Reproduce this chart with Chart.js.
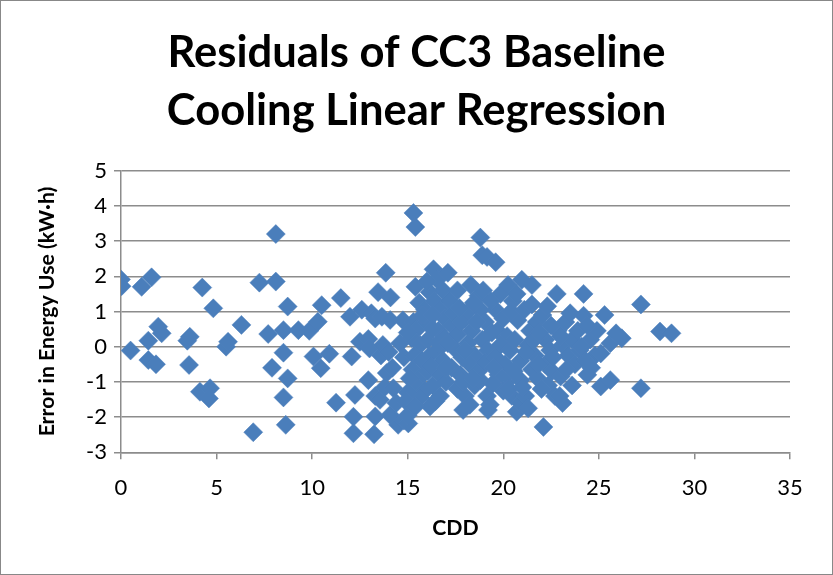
<!DOCTYPE html>
<html>
<head>
<meta charset="utf-8">
<script src="https://cdn.jsdelivr.net/npm/chart.js@4.4.1/dist/chart.umd.min.js"></script>
<style>
  html, body { margin: 0; padding: 0; background: #ffffff; }
  #wrap { width: 833px; height: 575px; position: relative; }
</style>
</head>
<body>
<div id="wrap"><canvas id="c" width="833" height="575"></canvas></div>
<script>
// ---- Data ----
const titleLines = ['Residuals of CC3 Baseline', 'Cooling Linear Regression'];
const xAxisTitle = 'CDD';
const yAxisTitle = 'Error in Energy Use (kW\u00B7h)';
const xTickValues = [0, 5, 10, 15, 20, 25, 30, 35];
const yTickValues = [-3, -2, -1, 0, 1, 2, 3, 4, 5];

// CDD (x) and residual (y) of each observation, paired by index
const cddValues = [
  0.0, 0.03, 0.5, 1.08, 1.6, 1.43, 1.43, 1.83, 1.95, 2.13,
  3.47, 3.6, 3.56, 4.13, 4.66, 4.6, 4.25, 4.83, 5.5, 5.6,
  6.3, 6.92, 7.24, 7.7, 7.9, 8.1, 8.1, 8.5, 8.5, 8.5,
  8.62, 8.72, 8.72, 9.28, 9.85, 10.07, 10.3, 10.45, 10.5, 10.9,
  11.25, 11.5, 11.98, 12.07, 12.16, 12.16, 12.24, 12.5, 12.6, 12.94,
  13.0, 12.94, 13.1, 13.24, 13.3, 13.3, 13.55, 13.45, 13.3, 13.6,
  13.85, 13.65, 13.7, 13.9, 13.8, 14.08, 14.1, 14.0, 14.2, 14.25,
  14.08, 14.5, 14.8, 15.03, 14.6, 14.8, 14.75, 15.0,
  15.3, 15.4, 15.4, 15.6, 15.9, 15.3, 15.5, 16.0, 15.2, 15.65,
  16.05, 15.35, 15.75, 16.15, 15.25, 15.6, 16.05, 15.45, 15.9, 16.3,
  15.65, 16.17, 16.35, 16.55, 17.1, 16.85, 16.15, 16.4, 16.7, 16.95,
  16.6, 16.95, 16.55, 16.85, 16.7, 17.0, 16.7, 16.45,
  17.2, 17.3, 17.6, 17.45, 17.85, 17.3, 17.75, 17.6, 18.0, 17.9,
  18.25, 18.0, 18.25, 18.35, 18.15, 18.5, 18.25, 18.7, 18.5, 18.8,
  18.9, 19.15, 19.6, 18.7, 18.95, 18.8, 19.05, 18.9, 19.2, 19.05,
  18.8, 19.15, 19.3, 19.2,
  19.85, 20.25, 20.5, 19.6, 20.0, 19.7, 20.2, 19.85, 20.35, 19.6,
  20.1, 19.75, 20.25, 20.0, 20.45, 20.7, 20.9, 20.75, 20.6, 20.9,
  20.9, 20.97, 21.5,
  21.15, 21.3, 21.4, 21.3, 21.65, 21.5, 21.8, 21.75, 22.05, 22.2,
  22.45, 22.2, 22.55, 22.35, 22.7, 22.1, 22.8, 22.85, 23.25, 23.1,
  23.4, 23.1, 22.95, 23.6, 23.75, 23.6, 23.9, 24.0,
  24.2, 24.2, 24.4, 24.55, 24.8, 24.9, 25.1, 25.1, 25.3, 25.6,
  25.6, 25.9, 26.2, 27.2, 28.2, 28.8, 27.2,
  15.0, 15.1, 15.0, 15.8, 16.3, 16.2, 16.6, 16.3, 17.1, 17.0,
  17.4, 17.8, 17.9, 18.4, 18.6, 18.45, 17.7, 18.0, 19.4, 19.5,
  19.45, 19.35, 20.4, 20.55, 20.3, 21.1, 21.2, 21.0, 21.6, 21.9,
  21.85, 22.0, 22.5, 22.6, 23.0, 23.3, 23.0, 23.5, 24.3, 24.1,
  24.6, 24.4, 22.3, 21.5, 20.7, 18.3, 17.6, 16.0,
  14.4, 14.9, 15.4
];
const residualValues = [
  1.91, 1.72, -0.11, 1.7, 1.97, 0.17, -0.38, -0.5, 0.57, 0.38,
  0.17, 0.28, -0.52, -1.28, -1.18, -1.47, 1.68, 1.09, 0.0, 0.14,
  0.62, -2.43, 1.82, 0.36, -0.6, 3.2, 1.85, -1.44, -0.17, 0.47,
  -2.22, 1.14, -0.9, 0.47, 0.45, -0.28, 0.71, -0.61, 1.18, -0.2,
  -1.59, 1.38, 0.85, -0.28, -2.46, -1.99, -1.37, 0.14, 1.05, 0.22,
  -0.05, -0.95, 0.95, -2.49, -1.98, -1.4, -1.51, 1.55, 0.8, -0.25,
  2.1, 0.85, 0.05, -0.75, -1.15, 0.76, 1.4, -0.15, -0.6, -1.18,
  -1.94, -2.22, -2.1, -2.18, 0.1, -0.3, 0.75, -1.95,
  3.8, 3.4, 1.7, 1.25, 1.05, 0.7, 0.5, 0.7, 0.25, 0.05,
  0.2, -0.25, -0.4, -0.25, -0.65, -0.9, -0.7, -1.1, -1.25, -1.1,
  -1.45, -1.7, 2.2, 1.9, 2.1, 1.6, 1.55, 1.3, 1.05, 0.8,
  0.45, 0.25, -0.1, -0.4, -0.8, -1.0, -1.4, -1.55,
  1.3, 0.6, 0.35, -0.05, -0.3, -0.6, -0.8, -1.2, -1.4, -1.8,
  -1.65, 0.8, 1.05, 0.45, 0.1, -0.25, -0.5, -0.7, -1.1, 3.1,
  2.6, 2.55, 2.4, 1.45, 1.6, 1.05, 0.7, 0.2, -0.1, -0.45,
  -0.95, -1.4, -1.65, -1.8,
  1.5, 1.75, 1.3, 1.05, 0.8, 0.45, 0.3, 0.05, -0.1, -0.3,
  -0.5, -0.8, -0.95, -1.25, -1.4, -1.85, -1.6, 0.75, 0.2, -0.4,
  -0.95, 1.9, 1.75,
  -1.4, -1.75, 0.45, 0.05, -0.25, -0.65, -0.9, 0.7, 0.9, 0.2,
  -0.1, -0.5, -0.7, -1.1, -1.4, -2.28, 1.5, 0.45, 0.7, 0.05,
  -0.25, -1.6, -1.4, -1.1, -0.5, 0.2, 0.45, -0.1,
  1.5, 0.88, -0.8, 0.2, -0.25, 0.45, -0.19, -1.13, 0.9, 0.1,
  -0.95, 0.38, 0.24, 1.2, 0.43, 0.38, -1.18,
  0.4, -0.9, -1.3, 0.9, 0.9, -0.55, 0.1, 0.5, 0.1, -0.6,
  0.95, 0.7, -1.0, -0.9, 0.7, 1.25, 1.1, -0.1, 0.4, -0.6,
  -1.05, 1.3, 1.0, -0.7, -1.2, 1.05, -0.15, -1.15, 0.2, 0.4,
  -0.5, -1.2, 0.6, -0.3, -0.85, -0.65, 0.3, 0.95, -0.4, 0.0,
  -0.6, 0.6, 1.15, 1.2, 1.5, 1.75, 1.6, 1.85,
  -1.6, -1.55, -1.7
];

// ---- Build chart ----
const FONT = 'Lato, "Open Sans", sans-serif';
const points = cddValues.map((x, i) => ({ x: x, y: residualValues[i] }));

// size text so that it spans about the same width as in the reference
function fitSize(text, weight, targetWidth) {
  const m = document.createElement('canvas').getContext('2d');
  m.font = weight + ' 100px ' + FONT;
  return 100 * targetWidth / m.measureText(text).width;
}
const titleSize = Math.min(50, fitSize(titleLines[0], 'bold', 498));
const yTitleSize = Math.min(24, fitSize(yAxisTitle, 'bold', 250));
const xTitleSize = yTitleSize;

const frame = {
  id: 'frame',
  afterDraw(chart) {
    const ctx = chart.ctx;
    ctx.save();
    ctx.strokeStyle = '#888888';
    ctx.lineWidth = 1;
    ctx.strokeRect(0.5, 0.5, chart.width - 1, chart.height - 1);
    ctx.restore();
  }
};

new Chart(document.getElementById('c'), {
  type: 'scatter',
  data: {
    datasets: [{
      data: points,
      pointStyle: 'rectRot',
      pointRadius: 9.5,
      backgroundColor: '#4a7ebb',
      borderColor: '#4f81bd',
      borderWidth: 0.5
    }]
  },
  options: {
    responsive: false,
    animation: false,
    events: [],
    layout: { padding: { left: 0, right: 0, top: 0, bottom: 0 } },
    plugins: {
      legend: { display: false },
      tooltip: { enabled: false },
      title: {
        display: true,
        text: titleLines,
        color: '#000000',
        font: { family: FONT, size: titleSize, weight: 'bold', lineHeight: '58px' },
        padding: { top: 24, bottom: 30.7 }
      }
    },
    scales: {
      x: {
        type: 'linear',
        min: 0, max: 35,
        afterBuildTicks: s => { s.ticks = xTickValues.map(v => ({ value: v })); },
        afterFit: s => { s.height = 122.7; },
        ticks: { color: '#000000', font: { family: FONT, size: 22 }, padding: 15, maxRotation: 0 },
        grid: { drawOnChartArea: false, drawTicks: true, tickLength: 7, color: '#8c8c8c', lineWidth: 1.5 },
        border: { color: '#8c8c8c', width: 1.5 },
        title: { display: true, text: xAxisTitle, color: '#000000',
                 font: { family: FONT, size: xTitleSize, weight: 'bold', lineHeight: 1.2 },
                 padding: { top: 0, bottom: 34 } }
      },
      y: {
        type: 'linear',
        min: -3, max: 5,
        afterBuildTicks: s => { s.ticks = yTickValues.map(v => ({ value: v })); },
        afterFit: s => { s.width = 121; },
        ticks: { color: '#000000', font: { family: FONT, size: 22 }, padding: 7 },
        grid: { drawOnChartArea: true, drawTicks: true, tickLength: 7, color: '#8c8c8c', lineWidth: 1.5 },
        border: { color: '#8c8c8c', width: 1.5 },
        title: { display: true, text: yAxisTitle, color: '#000000',
                 font: { family: FONT, size: yTitleSize, weight: 'bold', lineHeight: 1.2 },
                 padding: { top: 34, bottom: 0 } }
      },
      spacer: {
        type: 'linear',
        position: 'right',
        display: true,
        afterFit: s => { s.width = 43; },
        ticks: { display: false },
        grid: { display: false, drawTicks: false },
        border: { display: false },
        title: { display: false }
      }
    }
  },
  plugins: [frame]
});
</script>
</body>
</html>
